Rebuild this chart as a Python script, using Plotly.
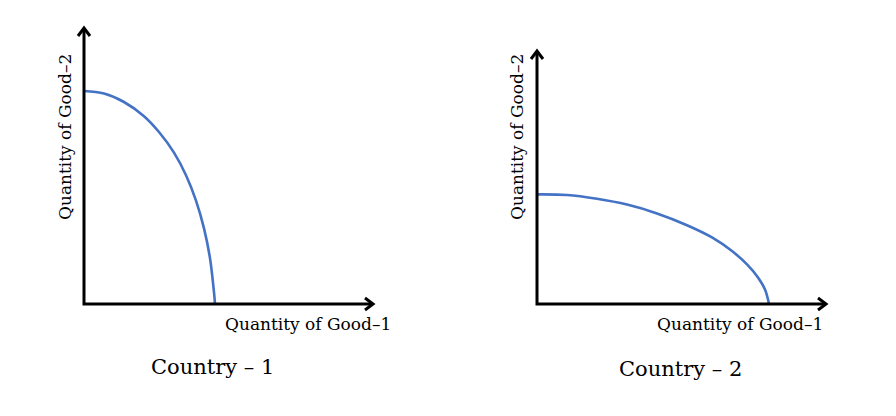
import plotly.graph_objects as go

W, H = 896, 416

# PPF curve readings (units: quantity, arbitrary)
c1_good1 = [0.0, 1.0, 2.0, 3.0, 3.75, 4.5, 5.1, 5.6, 6.0, 6.3, 6.5, 6.55]
c1_good2 = [10.65, 10.52, 10.1, 9.39, 8.6, 7.57, 6.44, 5.17, 3.78, 2.29, 0.58, 0.0]
c2_good1 = [0.0, 1.5, 3.0, 4.5, 6.0, 7.5, 8.75, 9.75, 10.5, 11.05, 11.4, 11.6]
c2_good2 = [5.48, 5.45, 5.26, 4.97, 4.53, 3.94, 3.33, 2.65, 1.98, 1.33, 0.72, 0.0]

x_title = "Quantity of Good–1"
y_title = "Quantity of Good–2"
captions = ["Country – 1", "Country – 2"]

# axis extents (units)
x_max = [14.45, 14.45]
y_max = [13.8, 12.65]

FONT = "DejaVu Serif"
BLUE = "#4472C4"
PX = 20.0   # pixels per unit
PAD = 0.8   # units of padding around axes so arrowheads are not clipped

fig = go.Figure()
fig.add_trace(go.Scatter(x=c1_good1, y=c1_good2, mode="lines",
                         line=dict(color=BLUE, width=2.6, shape="spline", smoothing=1.0),
                         xaxis="x", yaxis="y", showlegend=False, hoverinfo="skip"))
fig.add_trace(go.Scatter(x=c2_good1, y=c2_good2, mode="lines",
                         line=dict(color=BLUE, width=2.6, shape="spline", smoothing=1.0),
                         xaxis="x2", yaxis="y2", showlegend=False, hoverinfo="skip"))

origins = [(84, 304), (537, 304)]

def axis_pair(i):
    ox, oy = origins[i]
    p = PAD * PX
    xdom = [(ox - p) / W, (ox + x_max[i] * PX + p) / W]
    ydom = [(H - oy - p) / H, (H - oy + y_max[i] * PX + p) / H]
    return xdom, ydom

common = dict(visible=False, showgrid=False, zeroline=False, fixedrange=True)
xd1, yd1 = axis_pair(0)
xd2, yd2 = axis_pair(1)
fig.update_layout(
    width=W, height=H,
    margin=dict(l=0, r=0, t=0, b=0),
    paper_bgcolor="white", plot_bgcolor="white",
    xaxis=dict(domain=xd1, range=[-PAD, x_max[0] + PAD], **common),
    yaxis=dict(domain=yd1, range=[-PAD, y_max[0] + PAD], **common),
    xaxis2=dict(domain=xd2, range=[-PAD, x_max[1] + PAD], anchor="y2", **common),
    yaxis2=dict(domain=yd2, range=[-PAD, y_max[1] + PAD], anchor="x2", **common),
)

# axes with open arrowheads
hw, hl = 0.3, 0.4
for i, (xr, yr) in enumerate([("x", "y"), ("x2", "y2")]):
    xm, ym = x_max[i], y_max[i]
    line = dict(color="black", width=3)
    fig.add_shape(type="path", xref=xr, yref=yr, path=f"M 0,{ym} L 0,0 L {xm},0", line=line)
    fig.add_shape(type="path", xref=xr, yref=yr,
                  path=f"M {-hw},{ym - hl} L 0,{ym} L {hw},{ym - hl}", line=line)
    fig.add_shape(type="path", xref=xr, yref=yr,
                  path=f"M {xm - hl},{hw} L {xm},0 L {xm - hl},{-hw}", line=line)

def ann(text, xpx, ypx, size, angle=0):
    fig.add_annotation(text=text, x=xpx / W, y=1 - ypx / H, xref="paper", yref="paper",
                       showarrow=False, xanchor="center", yanchor="middle", textangle=angle,
                       font=dict(family=FONT, size=size, color="black"))

ann(x_title, 308, 324, 17)
ann(x_title, 740, 324, 17)
ann(y_title, 65, 137, 17, -90)
ann(y_title, 517, 137, 17, -90)
ann(captions[0], 212, 367, 21)
ann(captions[1], 680, 369, 21)

fig.write_html("out.html")
